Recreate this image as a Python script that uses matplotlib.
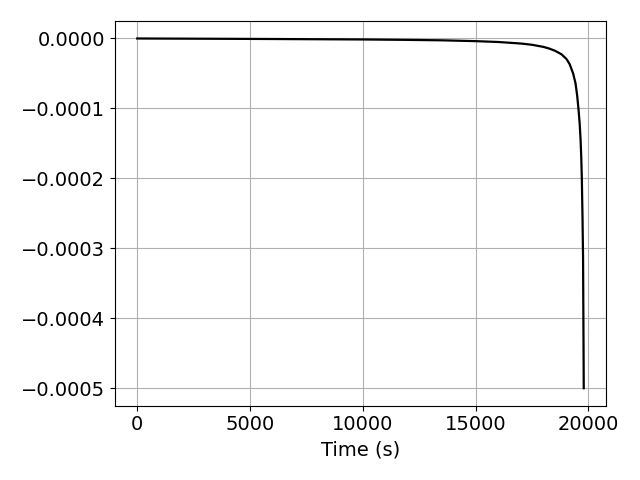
import matplotlib
matplotlib.use("Agg")
import matplotlib.pyplot as plt
import matplotlib.ticker as mticker
import numpy as np

time_s = [0, 2500, 5000, 7500, 10000, 12000, 13500, 15000, 16000, 17000,
          17500, 18000, 18250, 18500, 18800, 19030, 19170, 19320, 19425,
          19500, 19560, 19610, 19650, 19680, 19705, 19735, 19760, 19775,
          19790]
value_e6 = [0, -0.3, -0.6, -1.0, -1.4, -2.0, -2.6, -3.8, -5.0, -7.2,
            -9.0, -12.0, -14.3, -17.3, -22.5, -29.5, -37.0, -50.0, -64.0,
            -82.0, -102.0, -122.0, -145.0, -170.0, -200.0, -255.0, -315.0,
            -405.0, -500.0]
values = np.array(value_e6) * 1e-6

plt.rcParams['font.size'] = 14
fig, ax = plt.subplots(figsize=(6.4, 4.8), dpi=100)
ax.plot(time_s, values, color='k', lw=1.6)
ax.set_xlabel("Time (s)")
ax.grid(True)
ax.set_xticks([0, 5000, 10000, 15000, 20000])
ax.set_yticks([0, -0.0001, -0.0002, -0.0003, -0.0004, -0.0005])
ax.yaxis.set_major_formatter(mticker.FuncFormatter(
    lambda v, p: f"{v:.4f}".replace("-", "\u2212") if abs(v) > 1e-12 else "0.0000"))
fig.tight_layout()
fig.savefig("out.png")
